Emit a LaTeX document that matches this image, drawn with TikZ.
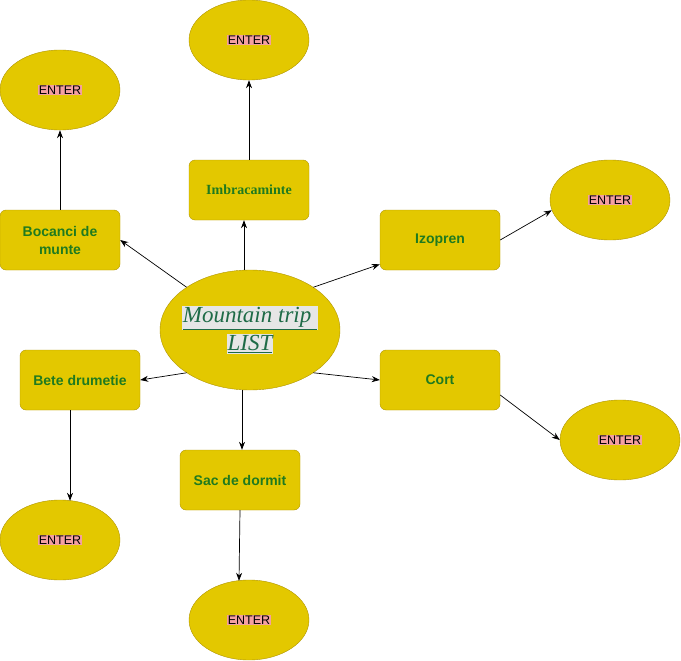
\documentclass[tikz,border=0pt]{standalone}
\usepackage{fontspec}
\setmainfont{Liberation Sans}
\newfontfamily\serifface{Liberation Serif}
\usepackage{xcolor}
\usetikzlibrary{positioning, arrows.meta, shapes.geometric, calc}
\definecolor{mustard}{HTML}{E3C800}
\definecolor{mustardline}{HTML}{B09500}
\definecolor{leafgreen}{HTML}{1F7A1F}
\definecolor{pinkbg}{HTML}{F4A0A0}
\definecolor{hubgreen}{HTML}{1E6B47}
\definecolor{hubbg}{HTML}{E6E6E6}
\newcommand{\entertag}{{\setlength{\fboxsep}{0.5pt}\colorbox{pinkbg}{ENTER}}}
\newcommand{\hubline}[1]{{\setlength{\fboxsep}{1pt}\colorbox{hubbg}{\underline{#1}}}}

\begin{document}
\begin{tikzpicture}[x=1pt, y=1pt,
    itembox/.style={draw=mustardline, fill=mustard, rounded corners=6pt,
      minimum width=120pt, minimum height=60pt, align=center,
      text=leafgreen, font=\fontsize{14}{18}\selectfont\bfseries},
    enterell/.style={ellipse, draw=mustardline, fill=mustard,
      minimum width=120pt, minimum height=80pt, inner sep=0pt,
      font=\fontsize{12.5}{14}\selectfont},
    link/.style={-{Stealth[length=8pt, width=6pt]}, line width=0.7pt}]
  \useasboundingbox (0,0) rectangle (681,-661);

  % hub
  \node[ellipse, draw=mustardline, fill=mustard, minimum width=180pt,
        minimum height=120pt, inner sep=0pt] (hub) at (250,-330) {};
  \node[align=center, text=hubgreen, inner sep=0pt,
        font=\serifface\itshape\fontsize{23}{28}\selectfont] (hubtext) at (hub)
        {\hubline{Mountain trip\ }\\\hubline{LIST}};

  % first ring
  \node[itembox, font=\serifface\fontsize{14}{18}\selectfont\bfseries] (imbr) at (249,-190) {Imbracaminte};
  \node[itembox] (bocanci) at (60,-240) {Bocanci de\\munte};
  \node[itembox] (izopren) at (440,-240) {Izopren};
  \node[itembox] (bete) at (80,-380) {Bete drumetie};
  \node[itembox] (cort) at (440,-380) {Cort};
  \node[itembox] (sac) at (240,-480) {Sac de dormit};

  % outer ring
  \node[enterell] (e_imbr) at (249,-40) {\entertag};
  \node[enterell] (e_boc) at (60,-90) {\entertag};
  \node[enterell] (e_izo) at (610,-200) {\entertag};
  \node[enterell] (e_bete) at (60,-540) {\entertag};
  \node[enterell] (e_cort) at (620,-440) {\entertag};
  \node[enterell] (e_sac) at (249,-620) {\entertag};

  % hub to items
  \draw[link] ($(hub.north)+(-6,0)$) -- ($(imbr.south)+(-5,0)$);
  \draw[link] (hub.146) -- (bocanci.east);
  \draw[link] (hub.34) -- (izopren.202);
  \draw[link] (hub.214) -- (bete.east);
  \draw[link] (hub.326) -- (cort.west);
  \draw[link] ($(hub.south)+(-8,0)$) -- ($(sac.north)+(2,0)$);

  % items to ENTER
  \draw[link] (imbr.north) -- (e_imbr.south);
  \draw[link] (bocanci.north) -- (e_boc.south);
  \draw[link] (izopren.east) -- (e_izo.190);
  \draw[link] ($(bete.south)+(-10,0)$) -- ($(e_bete.north)+(10,-1)$);
  \draw[link] ($(cort.east)+(0,-15)$) -- (e_cort.west);
  \draw[link] (sac.south) -- ($(e_sac.north)+(-10,-1)$);
\end{tikzpicture}
\end{document}
